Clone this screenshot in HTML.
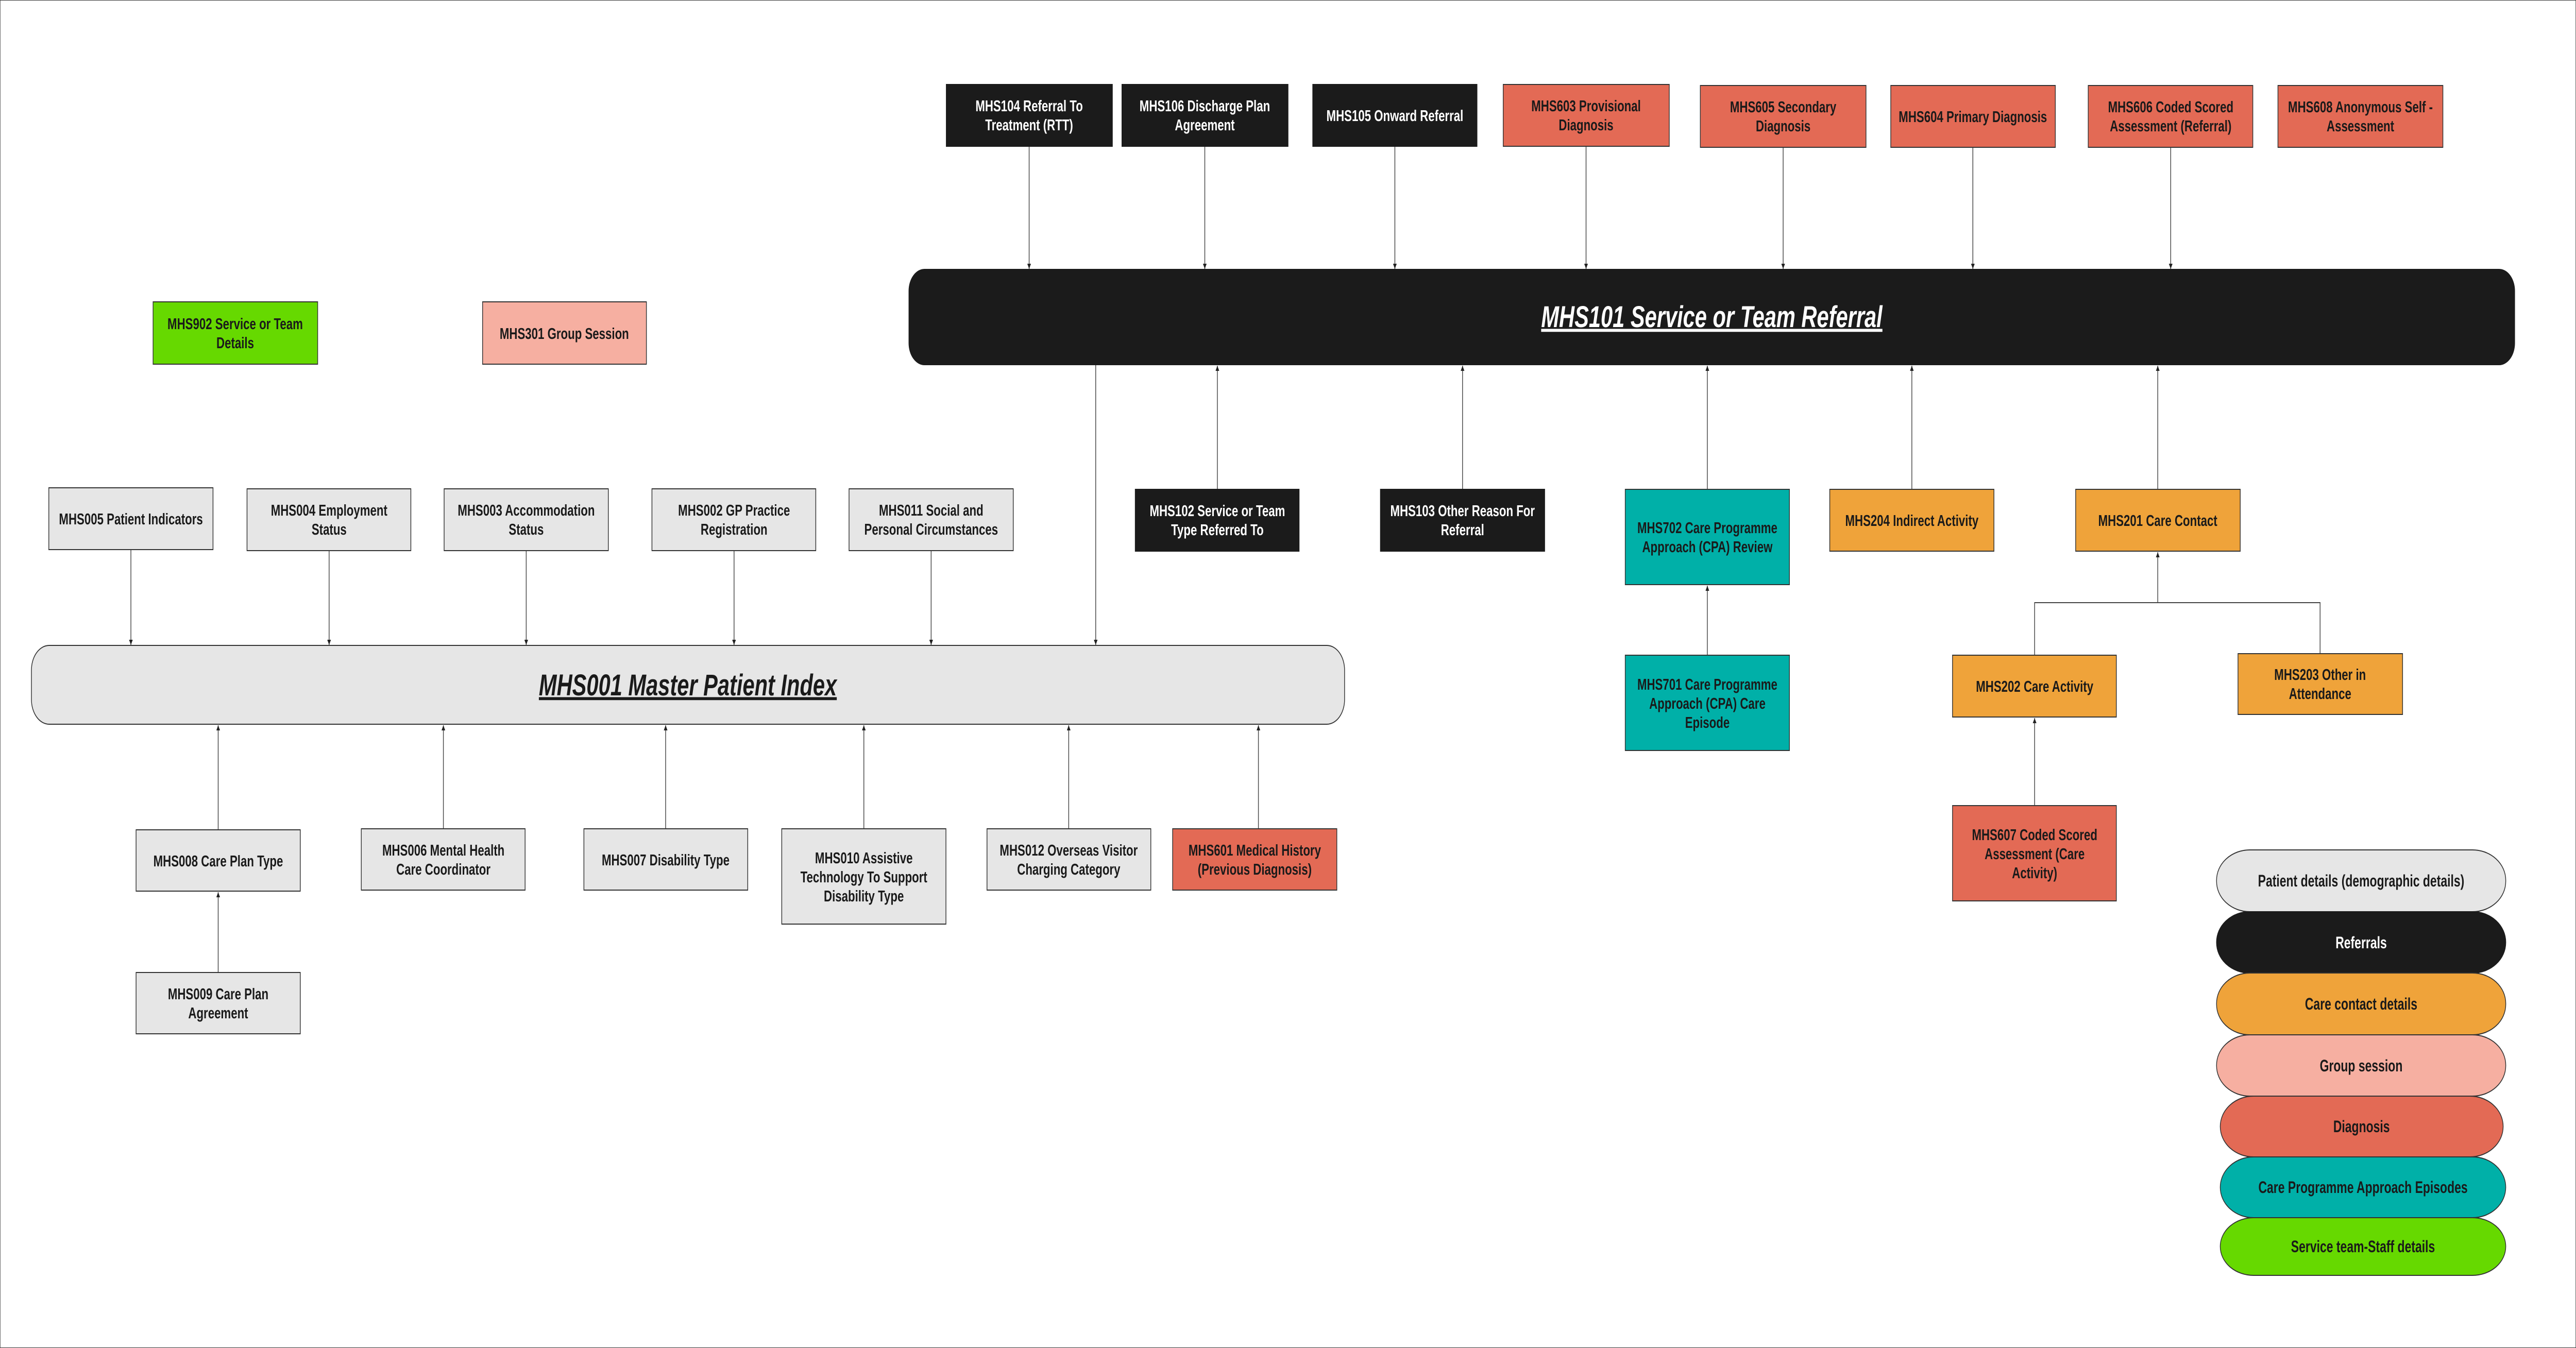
<!DOCTYPE html>
<html><head><meta charset="utf-8">
<meta name="viewport" content="width=6966">
<style>
html,body{margin:0;padding:0;background:#fff;width:100%;height:100%;overflow:hidden;}
svg{display:block;position:absolute;left:0;top:0;width:100vw;height:100vh;}
text{font-family:"Liberation Sans",Arial,sans-serif;font-weight:bold;font-size:31px;text-anchor:middle;fill:#1a1a1a;}
.w{fill:#fff;}
.bt{font-size:58px;font-style:italic;text-decoration:underline;}
.lg{font-size:32px;}
rect{stroke:#333;stroke-width:2;}
.g{fill:#e6e6e6;}.k{fill:#1b1b1b;stroke:#1b1b1b;}.r{fill:#e36a55;}.o{fill:#efa33a;}.t{fill:#00b0a8;}.gr{fill:#66d900;}.p{fill:#f6afa1;}
</style></head><body>
<svg viewBox="0 0 6966 2617" preserveAspectRatio="none" xmlns="http://www.w3.org/2000/svg">
<defs><marker id="a" viewBox="0 0 10 10" refX="10" refY="5" markerWidth="5" markerHeight="5" orient="auto"><path d="M0,0 L10,5 L0,10 z" fill="#222"/></marker></defs>
<rect x="0" y="0" width="6966" height="2617" fill="#fff" stroke="none"/>
<g stroke="#444" stroke-width="2" fill="none" marker-end="url(#a)">
<line x1="2783" y1="284" x2="2783" y2="522"/>
<line x1="3258" y1="284" x2="3258" y2="522"/>
<line x1="3772" y1="284" x2="3772" y2="522"/>
<line x1="4289" y1="284" x2="4289" y2="522"/>
<line x1="4822" y1="286" x2="4822" y2="522"/>
<line x1="5335" y1="286" x2="5335" y2="522"/>
<line x1="5870" y1="286" x2="5870" y2="522"/>
<line x1="3292" y1="950" x2="3292" y2="710"/>
<line x1="3955" y1="950" x2="3955" y2="710"/>
<line x1="4617" y1="950" x2="4617" y2="710"/>
<line x1="5170" y1="950" x2="5170" y2="710"/>
<line x1="5835" y1="950" x2="5835" y2="710"/>
<line x1="4617" y1="1272" x2="4617" y2="1137"/>
<line x1="5502" y1="1564" x2="5502" y2="1394"/>
<line x1="2963" y1="708" x2="2963" y2="1252"/>
<line x1="354" y1="1067" x2="354" y2="1252"/>
<line x1="890" y1="1069" x2="890" y2="1252"/>
<line x1="1423" y1="1069" x2="1423" y2="1252"/>
<line x1="1985" y1="1069" x2="1985" y2="1252"/>
<line x1="2518" y1="1069" x2="2518" y2="1252"/>
<line x1="590" y1="1611" x2="590" y2="1408"/>
<line x1="1199" y1="1609" x2="1199" y2="1408"/>
<line x1="1800" y1="1609" x2="1800" y2="1408"/>
<line x1="2336" y1="1609" x2="2336" y2="1408"/>
<line x1="2890" y1="1609" x2="2890" y2="1408"/>
<line x1="3403" y1="1609" x2="3403" y2="1408"/>
<line x1="590" y1="1888" x2="590" y2="1732"/>
<line x1="5835" y1="1170" x2="5835" y2="1072"/>
</g>
<polyline points="5502,1272 5502,1170 6274,1170 6274,1269" stroke="#444" stroke-width="2" fill="none"/>

<!-- top row -->
<rect class="k" x="2559" y="164" width="449" height="120"/>
<text class="w" x="2783" y="216">MHS104 Referral To</text><text class="w" x="2783" y="253">Treatment (RTT)</text>
<rect class="k" x="3034" y="164" width="449" height="120"/>
<text class="w" x="3258" y="216">MHS106 Discharge Plan</text><text class="w" x="3258" y="253">Agreement</text>
<rect class="k" x="3550" y="164" width="444" height="120"/>
<text class="w" x="3772" y="235">MHS105 Onward Referral</text>
<rect class="r" x="4065" y="164" width="449" height="120"/>
<text x="4289" y="216">MHS603 Provisional</text><text x="4289" y="253">Diagnosis</text>
<rect class="r" x="4598" y="166" width="448" height="120"/>
<text x="4822" y="218">MHS605 Secondary</text><text x="4822" y="255">Diagnosis</text>
<rect class="r" x="5113" y="166" width="445" height="120"/>
<text x="5335" y="237">MHS604 Primary Diagnosis</text>
<rect class="r" x="5647" y="166" width="445" height="120"/>
<text x="5870" y="218">MHS606 Coded Scored</text><text x="5870" y="255">Assessment (Referral)</text>
<rect class="r" x="6160" y="166" width="446" height="120"/>
<text x="6383" y="218">MHS608 Anonymous Self -</text><text x="6383" y="255">Assessment</text>

<rect class="k" x="2458" y="523" width="4342" height="185" rx="42" ry="42"/>
<text class="w bt" x="4629" y="635">MHS101 Service or Team Referral</text>

<rect class="gr" x="414" y="586" width="445" height="121"/>
<text x="636" y="639">MHS902 Service or Team</text><text x="636" y="676">Details</text>
<rect class="p" x="1305" y="586" width="443" height="121"/>
<text x="1526" y="658">MHS301 Group Session</text>

<!-- row 2 -->
<rect class="g" x="132" y="947" width="444" height="120"/>
<text x="354" y="1018">MHS005 Patient Indicators</text>
<rect class="g" x="668" y="949" width="443" height="120"/>
<text x="890" y="1001">MHS004 Employment</text><text x="890" y="1038">Status</text>
<rect class="g" x="1201" y="949" width="444" height="120"/>
<text x="1423" y="1001">MHS003 Accommodation</text><text x="1423" y="1038">Status</text>
<rect class="g" x="1763" y="949" width="443" height="120"/>
<text x="1985" y="1001">MHS002 GP Practice</text><text x="1985" y="1038">Registration</text>
<rect class="g" x="2296" y="949" width="444" height="120"/>
<text x="2518" y="1001">MHS011 Social and</text><text x="2518" y="1038">Personal Circumstances</text>
<rect class="k" x="3070" y="950" width="443" height="120"/>
<text class="w" x="3292" y="1002">MHS102 Service or Team</text><text class="w" x="3292" y="1039">Type Referred To</text>
<rect class="k" x="3733" y="950" width="444" height="120"/>
<text class="w" x="3955" y="1002">MHS103 Other Reason For</text><text class="w" x="3955" y="1039">Referral</text>
<rect class="t" x="4395" y="950" width="444" height="185"/>
<text x="4617" y="1035">MHS702 Care Programme</text><text x="4617" y="1072">Approach (CPA) Review</text>
<rect class="o" x="4948" y="950" width="444" height="120"/>
<text x="5170" y="1021">MHS204 Indirect Activity</text>
<rect class="o" x="5613" y="950" width="445" height="120"/>
<text x="5835" y="1021">MHS201 Care Contact</text>

<rect class="g" x="85" y="1253" width="3551" height="153" rx="48" ry="48"/>
<text class="bt" x="1860" y="1350">MHS001 Master Patient Index</text>

<rect class="t" x="4395" y="1272" width="444" height="185"/>
<text x="4617" y="1339">MHS701 Care Programme</text><text x="4617" y="1376">Approach (CPA) Care</text><text x="4617" y="1413">Episode</text>
<rect class="o" x="5280" y="1272" width="443" height="120"/>
<text x="5502" y="1343">MHS202 Care Activity</text>
<rect class="o" x="6052" y="1269" width="445" height="118"/>
<text x="6274" y="1320">MHS203 Other in</text><text x="6274" y="1357">Attendance</text>
<rect class="r" x="5280" y="1564" width="443" height="185"/>
<text x="5502" y="1631">MHS607 Coded Scored</text><text x="5502" y="1668">Assessment (Care</text><text x="5502" y="1705">Activity)</text>

<!-- row 3 -->
<rect class="g" x="368" y="1611" width="444" height="119"/>
<text x="590" y="1682">MHS008 Care Plan Type</text>
<rect class="g" x="977" y="1609" width="443" height="119"/>
<text x="1199" y="1661">MHS006 Mental Health</text><text x="1199" y="1698">Care Coordinator</text>
<rect class="g" x="1579" y="1609" width="443" height="119"/>
<text x="1800" y="1680">MHS007 Disability Type</text>
<rect class="g" x="2114" y="1609" width="444" height="185"/>
<text x="2336" y="1676">MHS010 Assistive</text><text x="2336" y="1713">Technology To Support</text><text x="2336" y="1750">Disability Type</text>
<rect class="g" x="2669" y="1609" width="443" height="119"/>
<text x="2890" y="1661">MHS012 Overseas Visitor</text><text x="2890" y="1698">Charging Category</text>
<rect class="r" x="3171" y="1609" width="444" height="119"/>
<text x="3393" y="1661">MHS601 Medical History</text><text x="3393" y="1698">(Previous Diagnosis)</text>
<rect class="g" x="368" y="1888" width="444" height="119"/>
<text x="590" y="1940">MHS009 Care Plan</text><text x="590" y="1977">Agreement</text>

<!-- legend -->
<rect class="g" x="5994" y="1650" width="782" height="120" rx="90" ry="59"/>
<text class="lg" x="6385" y="1721">Patient details (demographic details)</text>
<rect class="k" x="5994" y="1770" width="782" height="119" rx="90" ry="59"/>
<text class="lg w" x="6385" y="1841">Referrals</text>
<rect class="o" x="5994" y="1889" width="782" height="120" rx="90" ry="59"/>
<text class="lg" x="6385" y="1960">Care contact details</text>
<rect class="p" x="5994" y="2009" width="782" height="119" rx="90" ry="59"/>
<text class="lg" x="6385" y="2080">Group session</text>
<rect class="r" x="6004" y="2128" width="765" height="118" rx="90" ry="59"/>
<text class="lg" x="6386" y="2198">Diagnosis</text>
<rect class="t" x="6004" y="2246" width="772" height="118" rx="90" ry="59"/>
<text class="lg" x="6390" y="2316">Care Programme Approach Episodes</text>
<rect class="gr" x="6004" y="2364" width="772" height="112" rx="90" ry="56"/>
<text class="lg" x="6390" y="2431">Service team-Staff details</text>
</svg>
</body></html>
